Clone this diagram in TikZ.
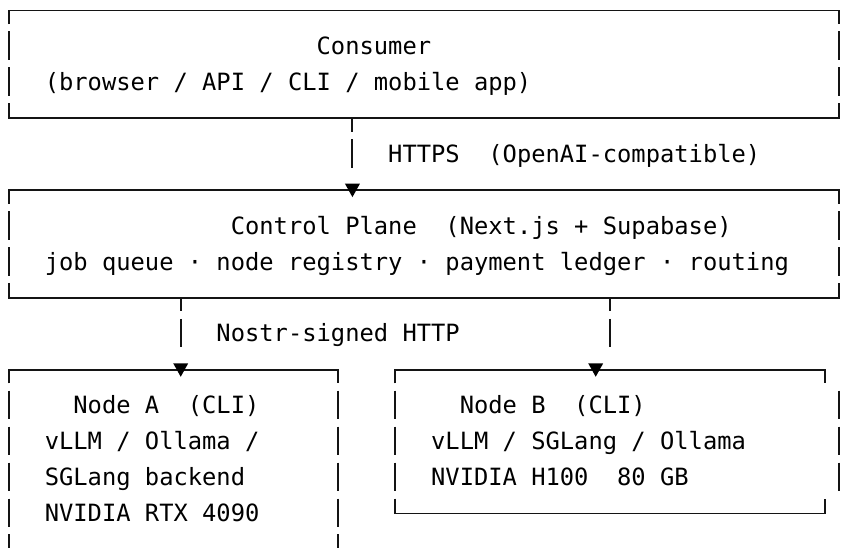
\documentclass[tikz,border=0pt]{standalone}
\usepackage{fontspec}
\newfontfamily\monofnt{DejaVu Sans Mono}
\usetikzlibrary{arrows.meta}
\tikzset{
  x=1pt, y=-1pt,
  declare function={cx(\c)=9+14.31*\c; ry(\r)=10.5+35.93*\r;},
  bline/.style={line width=1.9pt, draw=black!92},
  txt/.style={anchor=base west, inner sep=0pt, outer sep=0pt, text=black,
              font=\monofnt\fontsize{23.77pt}{35.93pt}\selectfont},
  boxarea/.style={draw=none, inner sep=0pt, outer sep=0pt, rectangle},
  conn/.style={bline, dash pattern=on 13.5pt off 7.43pt on 28.5pt off 400pt,
               -{Triangle[width=14.5pt,length=13.5pt,fill=black,color=black]}, shorten >=-7pt},
}
% c1 c2 row
\newcommand\bdtop[3]{\draw[bline] ({cx(#1)},{ry(#3)+13.5}) -- ({cx(#1)},{ry(#3)}) -- ({cx(#2)},{ry(#3)}) -- ({cx(#2)},{ry(#3)+13.5});}
\newcommand\bdbot[3]{\draw[bline] ({cx(#1)},{ry(#3)-15}) -- ({cx(#1)},{ry(#3)}) -- ({cx(#2)},{ry(#3)}) -- ({cx(#2)},{ry(#3)-15});}
% col r1 r2
\newcommand\bdbars[3]{\foreach \rr in {#2,...,#3}{\draw[bline] ({cx(#1)},{ry(\rr)-15}) -- ({cx(#1)},{ry(\rr)+13.5});}}
\newcommand\tpos[2]{({cx(#1)-7.155},{ry(#2)+8})}
\begin{document}
\begin{tikzpicture}
\fill[white] (0,0) rectangle (845,547);
\useasboundingbox (0,0) rectangle (845,547);
\clip (0,0) rectangle (845,547);

% box areas (named nodes)
\node[boxarea, minimum width={58*14.31pt}, minimum height={3*35.93pt}] (consumer) at ({cx(29)},{(ry(0)+ry(3))/2}) {};
\node[boxarea, minimum width={58*14.31pt}, minimum height={3*35.93pt}] (control) at ({cx(29)},{(ry(5)+ry(8))/2}) {};
\node[boxarea, minimum width={23*14.31pt}, minimum height={6*35.93pt}] (nodeA) at ({cx(11.5)},{(ry(10)+ry(16))/2}) {};
\node[boxarea, minimum width={30*14.31pt}, minimum height={4*35.93pt}] (nodeB) at ({cx(42)},{(ry(10)+ry(14))/2}) {};

% borders
\bdtop{0}{58}{0} \bdbars{0}{1}{2} \bdbars{58}{1}{2} \bdbot{0}{58}{3}
\bdtop{0}{58}{5} \bdbars{0}{6}{7} \bdbars{58}{6}{7} \bdbot{0}{58}{8}
\bdtop{0}{23}{10} \bdbars{0}{11}{15} \bdbars{23}{11}{15}
\bdtop{27}{57}{10} \bdbars{27}{11}{13} \bdbars{58}{11}{13} \bdbot{27}{57}{14}

% column references
\coordinate (k12) at ({cx(12)},0);
\coordinate (k24) at ({cx(24)},0);
\coordinate (k41) at ({cx(41)},0);
\coordinate (k42) at ({cx(42)},0);

% connectors
\draw[conn] (consumer.south -| k24) -- (control.north -| k24);
\draw[conn] (control.south -| k12) -- (nodeA.north -| k12);
\draw[conn] (control.south -| k42) -- ++(0,61.86) -- ++(-14.31,0) -- (nodeB.north -| k41);

% texts
\node[txt] (t1) at \tpos{22}{1} {Consumer};
\node[txt] (t2) at \tpos{3}{2} {(browser / API / CLI / mobile app)};
\node[txt] (l1) at \tpos{27}{4} {HTTPS~~(OpenAI-compatible)};
\node[txt] (t3) at \tpos{16}{6} {Control Plane~~(Next.js + Supabase)};
\node[txt] (t4) at \tpos{3}{7} {job queue · node registry · payment ledger · routing};
\node[txt] (l2) at \tpos{15}{9} {Nostr-signed HTTP};
\node[txt] (a1) at \tpos{5}{11} {Node A~~(CLI)};
\node[txt] (a2) at \tpos{3}{12} {vLLM / Ollama /};
\node[txt] (a3) at \tpos{3}{13} {SGLang backend};
\node[txt] (a4) at \tpos{3}{14} {NVIDIA RTX 4090};
\node[txt] (b1) at \tpos{32}{11} {Node B~~(CLI)};
\node[txt] (b2) at \tpos{30}{12} {vLLM / SGLang / Ollama};
\node[txt] (b3) at \tpos{30}{13} {NVIDIA H100~~80 GB};
\end{tikzpicture}
\end{document}
